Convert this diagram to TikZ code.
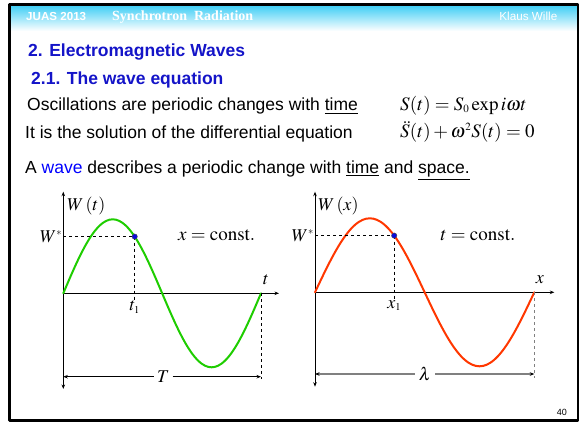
\documentclass[tikz,border=0pt]{standalone}
\usepackage{mathptmx}
\usepackage[no-math]{fontspec}
\usetikzlibrary{arrows.meta}
\setmainfont{Liberation Sans}
\newfontfamily\serifhead{Liberation Serif}
\DeclareMathSizes{18}{18}{10.5}{8}
\DeclareMathSizes{19}{19}{11}{8}
\definecolor{headcyan}{RGB}{60,205,245}
\definecolor{titleblue}{RGB}{20,20,200}
\definecolor{wavegreen}{RGB}{30,205,0}
\definecolor{wavered}{RGB}{255,55,0}
\definecolor{dotblue}{RGB}{10,10,220}
\begin{document}
\begin{tikzpicture}[x=1pt, y=-1pt, line join=round, >={Stealth[length=4.5pt,width=3.5pt]}, font=\fontsize{17.5}{21}\selectfont]
	\tikzset{heading/.style={anchor=base west, inner sep=0pt, text=titleblue, font=\fontsize{17.5}{21}\selectfont\bfseries},
		body/.style={anchor=base west, inner sep=0pt},
		headtext/.style={anchor=base west, inner sep=0pt, text=white, font=\fontsize{11.6}{14}\selectfont\bfseries},
		mlabel/.style={inner sep=1pt, font=\fontsize{18}{20}\selectfont},
		axis/.style={line width=0.8pt},
		guide/.style={dashed, line width=0.8pt},
		wave/.style={line width=2pt, line cap=round}}
	\useasboundingbox (0,0) rectangle (585,423);
	% slide frame and header band
	\shade[top color=headcyan, bottom color=white] (10,5) rectangle (577,31);
	\draw[line width=2.5pt] (9.3,4.5) rectangle (578,420.5);
	\node[headtext] (juas) at (26,20) {JUAS 2013};
	\node[headtext, font=\fontsize{14}{16}\serifhead\bfseries] (topic) at (112,20) {Synchrotron\ \ Radiation};
	\node[headtext, anchor=base east, font=\fontsize{11.7}{14}\selectfont] (author) at (557.5,20) {Klaus Wille};
	\node[anchor=base east, inner sep=0pt, font=\fontsize{9}{10}\selectfont] (page) at (567,415) {40};
	% text lines
	\node[heading] (sec) at (28,56) {2. Electromagnetic Waves};
	\node[heading] (subsec) at (31,84) {2.1. The wave equation};
	\node[body] (osc) at (27,110.5) {Oscillations are periodic changes with \underline{time}};
	\node[body] (sol) at (25,138.5) {It is the solution of the differential equation};
	\node[body] (wave) at (25,173) {A \textcolor{blue}{wave} describes a periodic change with \underline{time} and \underline{space.}};
	\node[body, font=\fontsize{19}{21}\selectfont] (eqS) at (400,110) {$S(t)=S_0\,\mathrm{exp}\,i\omega t$};
	\node[body, font=\fontsize{19}{21}\selectfont] (eqD) at (400,137.5) {$\ddot{S}(t)+\omega^2S(t)=0$};
	% left plot: x = const.
	\path (63.3,293.3) coordinate (O1)
	(63.3,191.7) coordinate (Y1t)
	(63.3,389) coordinate (Y1b)
	(279,293.3) coordinate (X1)
	(261,293.3) coordinate (E1)
	(63.3,376.7) coordinate (D1a)
	(261,376.7) coordinate (D1b)
	({63.3+130/360*197.7},{293.3-74*sin(130)}) coordinate (P1)
	;
	\draw[axis,<->] (Y1b) -- (Y1t);
	\draw[axis,->] (O1) -- (X1);
	\draw[wave, wavegreen] plot[domain=0:360, samples=61, smooth] ({63.3+\x/360*197.7},{293.3-74*sin(\x)});
	\node[mlabel, anchor=west] (W1) at (66,205.5) {$W\,(t)$};
	\node[mlabel, anchor=east] (Ws1) at (O1 |- P1) {$W^{*}$};
	\node[mlabel, font=\fontsize{19}{21}\selectfont] (c1) at (216.7,235) {$x=\mathrm{const.}$};
	\node[mlabel] (tx) at (266,280) {$t$};
	\node[mlabel, anchor=north] (t1) at (P1 |- 0,300) {$t_1$};
	\draw[guide] (O1 |- P1) -- (P1);
	\draw[guide] (P1) -- (t1.north);
	\draw[guide] (E1) -- (E1 |- 0,379);
	\node[mlabel, fill=white, inner xsep=3pt] (T) at (163.3,376.7) {$T$};
	\draw[axis,->] (T) -- (D1a);
	\draw[axis,->] (T) -- (D1b);
	\fill[dotblue, draw=black!70, line width=0.4pt] (P1) circle (2.7);
	% right plot: t = const.
	\path (315,292.3) coordinate (O2)
	(315,191.7) coordinate (Y2t)
	(315,386.7) coordinate (Y2b)
	(554.3,292.3) coordinate (X2)
	(534.3,292.3) coordinate (E2)
	(315,374) coordinate (D2a)
	(534.3,374) coordinate (D2b)
	({315+130/360*219.3},{292.3-74*sin(130)}) coordinate (P2)
	;
	\draw[axis,<->] (Y2b) -- (Y2t);
	\draw[axis,->] (O2) -- (X2);
	\draw[wave, wavered] plot[domain=0:360, samples=61, smooth] ({315+\x/360*219.3},{292.3-74*sin(\x)});
	\node[mlabel, anchor=west] (W2) at (317,205.5) {$W\,(x)$};
	\node[mlabel, anchor=east] (Ws2) at (O2 |- P2) {$W^{*}$};
	\node[mlabel, font=\fontsize{19}{21}\selectfont] (c2) at (478,235) {$t=\mathrm{const.}$};
	\node[mlabel] (xx) at (540,280) {$x$};
	\node[mlabel, anchor=north] (x1) at (P2 |- 0,299) {$x_1$};
	\draw[guide] (O2 |- P2) -- (P2);
	\draw[guide] (P2) -- (x1.north);
	\draw[guide, gray, line width=1.2pt] (E2) -- (E2 |- 0,378);
	\node[mlabel, fill=white, inner xsep=4pt] (lam) at (425,374) {$\lambda$};
	\draw[line width=1.3pt, gray, -{Stealth[length=4.5pt,width=3.5pt,black]}] (lam) -- (D2a);
	\draw[line width=1.3pt, gray, -{Stealth[length=4.5pt,width=3.5pt,black]}] (lam) -- (D2b);
	\fill[dotblue, draw=black!70, line width=0.4pt] (P2) circle (2.7);
\end{tikzpicture}
\end{document}
